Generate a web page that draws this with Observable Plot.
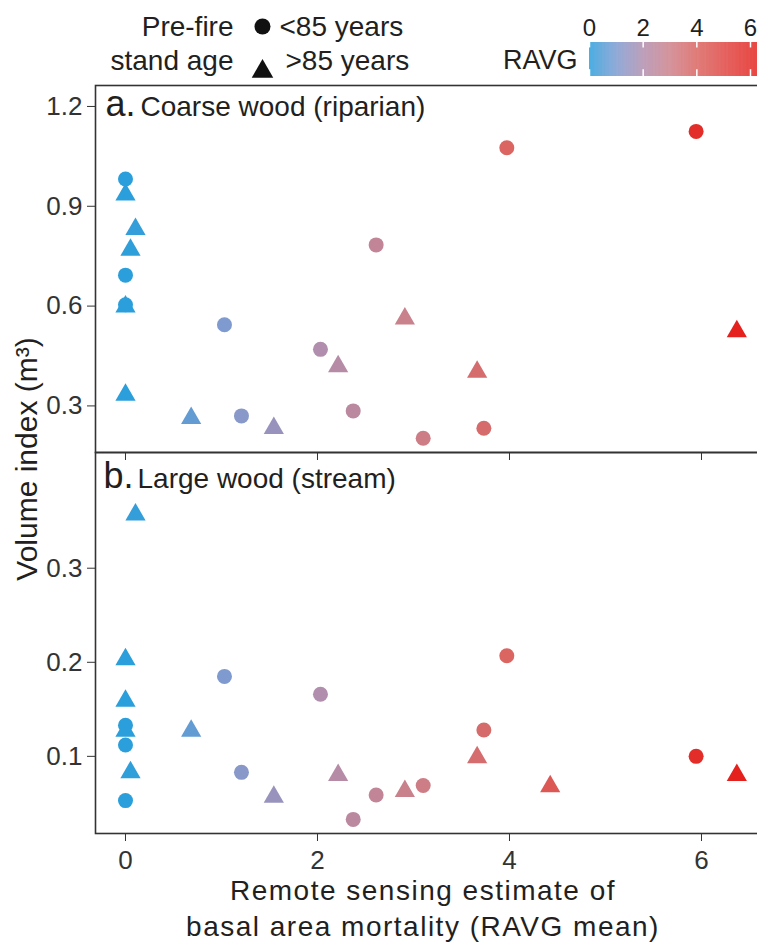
<!DOCTYPE html>
<html>
<head>
<meta charset="utf-8">
<script src="https://cdn.jsdelivr.net/npm/d3@7"></script>
<script src="https://cdn.jsdelivr.net/npm/@observablehq/plot@0.6"></script>
<style>
  html, body { margin: 0; padding: 0; background: white; }
  #chart { position: relative; width: 757px; height: 944px; overflow: hidden; background: white;
           font-family: "Liberation Sans", Arial, sans-serif; color: #231f20; }
  #chart svg { position: absolute; top: 0; left: 0; }
  .ytitle { position: absolute; left: 26.5px; top: 459px; transform: translate(-50%, -50%) rotate(-90deg);
            white-space: nowrap; font-size: 30px; line-height: 30px; }
  .xtitle { position: absolute; left: 423px; top: 873px; transform: translateX(-50%); text-align: center;
            white-space: nowrap; font-size: 28px; line-height: 36px; letter-spacing: 1.5px; }
</style>
</head>
<body>
<div id="chart"></div>
<script>
// ---- data ----
const ravgMean = [0, 0, 0, 0, 0, 0, 0.052, 0.104, 0.684, 1.031, 1.208, 1.545, 2.031, 2.215, 2.372, 2.611, 2.910, 3.101, 3.663, 3.733, 3.972, 4.424, 5.944, 6.368];
const standAge = [">85 years", ">85 years", ">85 years", "<85 years", "<85 years", "<85 years", ">85 years", ">85 years", ">85 years", "<85 years", "<85 years", ">85 years", "<85 years", ">85 years", "<85 years", "<85 years", ">85 years", "<85 years", ">85 years", "<85 years", "<85 years", ">85 years", "<85 years", ">85 years"];
const coarseRiparian = [0.935, 0.598, 0.333, 0.982, 0.693, 0.604, 0.769, 0.831, 0.263, 0.544, 0.270, 0.233, 0.470, 0.419, 0.285, 0.784, 0.562, 0.203, 0.402, 0.233, 1.076, null, 1.125, 0.524];
const largeStream = [0.203, 0.159, 0.127, 0.133, 0.112, 0.053, 0.083, 0.357, 0.127, 0.185, 0.083, 0.057, 0.166, 0.080, 0.033, 0.059, 0.063, 0.069, 0.099, 0.128, 0.207, 0.068, 0.100, 0.080];
const ageClasses = ["<85 years", ">85 years"];
const xTicks = [0, 2, 4, 6];
const yTicksA = [0.3, 0.6, 0.9, 1.2];
const yTicksB = [0.1, 0.2, 0.3];
const legendTicks = [0, 2, 4, 6];
const colorStops = [0, 1, 2, 3, 4, 6.37];
const colorRange = ["#2b9fdb", "#7c9ad0", "#b08eae", "#cc8089", "#da6460", "#e5211d"];

const sites = ravgMean.map((x, i) => ({ravg: x, age: standAge[i], coarse: coarseRiparian[i], large: largeStream[i]}));

const colorOpts = {type: "linear", domain: colorStops, range: colorRange, clamp: true};
const symbolOpts = {domain: ageClasses, range: ["circle", "triangle"]};
const svgStyle = "font-family: 'Liberation Sans', Arial, sans-serif; font-size: 26px; color: #333; background: transparent; overflow: visible; max-width: none;";
const textFill = "#231f20";
const W = 780, H = 944;
const xOpts = {domain: [-0.3125, 6.698], ticks: xTicks, tickSize: 8, label: null};

const chart = document.getElementById("chart");

// ---- top legend ----
const ramp = d3.range(0, 6.6, 0.02);
const legend = Plot.plot({
  width: W, height: 90, margin: 0, style: svgStyle,
  x: {domain: [0, 6], range: [589, 750], axis: null},
  y: {domain: [0, 1], range: [76, 42], axis: null},
  color: colorOpts, symbol: symbolOpts,
  marks: [
    Plot.rect(ramp, {x1: d => d, x2: d => d + 0.025, y1: 0, y2: 1, fill: d => d}),
    Plot.ruleX(legendTicks, {x: d => d, y1: 0.84, y2: 1, stroke: "white", strokeWidth: 1.5}),
    Plot.ruleX(legendTicks, {x: d => d, y1: 0, y2: 0.2, stroke: "white", strokeWidth: 1.5}),
    Plot.text(legendTicks, {x: d => d, y: 1, dy: -7, text: d => String(d), lineAnchor: "bottom", fontSize: 24, fill: textFill}),
    Plot.text(["RAVG"], {frameAnchor: "top-left", dx: 577, dy: 68, textAnchor: "end", lineAnchor: "bottom", fontSize: 27, fill: textFill}),
    Plot.text(["Pre-fire"], {frameAnchor: "top-left", dx: 233, dy: 35, textAnchor: "end", lineAnchor: "bottom", fontSize: 28, fill: textFill}),
    Plot.text(["stand age"], {frameAnchor: "top-left", dx: 233, dy: 69.5, textAnchor: "end", lineAnchor: "bottom", fontSize: 28, fill: textFill}),
    Plot.dot([ageClasses[0]], {frameAnchor: "top-left", dx: 262, dy: 26, symbol: d => d, r: 8, fill: "#111"}),
    Plot.dot([ageClasses[1]], {frameAnchor: "top-left", dx: 262, dy: 71, symbol: d => d, r: 8, fill: "#111"}),
    Plot.text([ageClasses[0]], {frameAnchor: "top-left", dx: 279, dy: 35, textAnchor: "start", lineAnchor: "bottom", fontSize: 28, fill: textFill, text: d => d}),
    Plot.text([ageClasses[1]], {frameAnchor: "top-left", dx: 285, dy: 69.5, textAnchor: "start", lineAnchor: "bottom", fontSize: 28, fill: textFill, text: d => d})
  ]
});
chart.appendChild(legend);

// ---- panel a ----
const panelA = Plot.plot({
  width: W, height: H, marginTop: 85, marginBottom: H - 452, marginLeft: 95, marginRight: 12, style: svgStyle,
  x: {...xOpts, tickFormat: () => ""},
  y: {domain: [0.16, 1.263], ticks: yTicksA, tickSize: 8, tickPadding: 5, tickFormat: d3.format(".1f"), label: null},
  color: colorOpts, symbol: symbolOpts,
  marks: [
    Plot.frame({stroke: "#333", strokeWidth: 1.6}),
    Plot.dot(sites, {x: "ravg", y: "coarse", symbol: "age", fill: "ravg", r: 7.5}),
    Plot.text(["a."], {frameAnchor: "top-left", dx: 10, dy: 30, lineAnchor: "bottom", textAnchor: "start", fontSize: 36, fill: textFill}),
    Plot.text(["Coarse wood (riparian)"], {frameAnchor: "top-left", dx: 45, dy: 30, lineAnchor: "bottom", textAnchor: "start", fontSize: 28, fill: textFill})
  ]
});
chart.appendChild(panelA);

// ---- panel b ----
const panelB = Plot.plot({
  width: W, height: H, marginTop: 452, marginBottom: H - 833, marginLeft: 95, marginRight: 12, style: svgStyle,
  x: {...xOpts, tickPadding: 9, tickFormat: d3.format("d")},
  y: {domain: [0.018, 0.423], ticks: yTicksB, tickSize: 8, tickPadding: 5, tickFormat: d3.format(".1f"), label: null},
  color: colorOpts, symbol: symbolOpts,
  marks: [
    Plot.frame({stroke: "#333", strokeWidth: 1.6}),
    Plot.dot(sites, {x: "ravg", y: "large", symbol: "age", fill: "ravg", r: 7.5}),
    Plot.text(["b."], {frameAnchor: "top-left", dx: 8, dy: 35, lineAnchor: "bottom", textAnchor: "start", fontSize: 36, fill: textFill}),
    Plot.text(["Large wood (stream)"], {frameAnchor: "top-left", dx: 42, dy: 35, lineAnchor: "bottom", textAnchor: "start", fontSize: 28, fill: textFill})
  ]
});
chart.appendChild(panelB);

// ---- axis titles ----
const yt = document.createElement("div");
yt.className = "ytitle";
yt.textContent = "Volume index (m\u00B3)";
chart.appendChild(yt);

const xt = document.createElement("div");
xt.className = "xtitle";
xt.innerHTML = "Remote sensing estimate of<br>basal area mortality (RAVG mean)";
chart.appendChild(xt);
</script>
</body>
</html>
